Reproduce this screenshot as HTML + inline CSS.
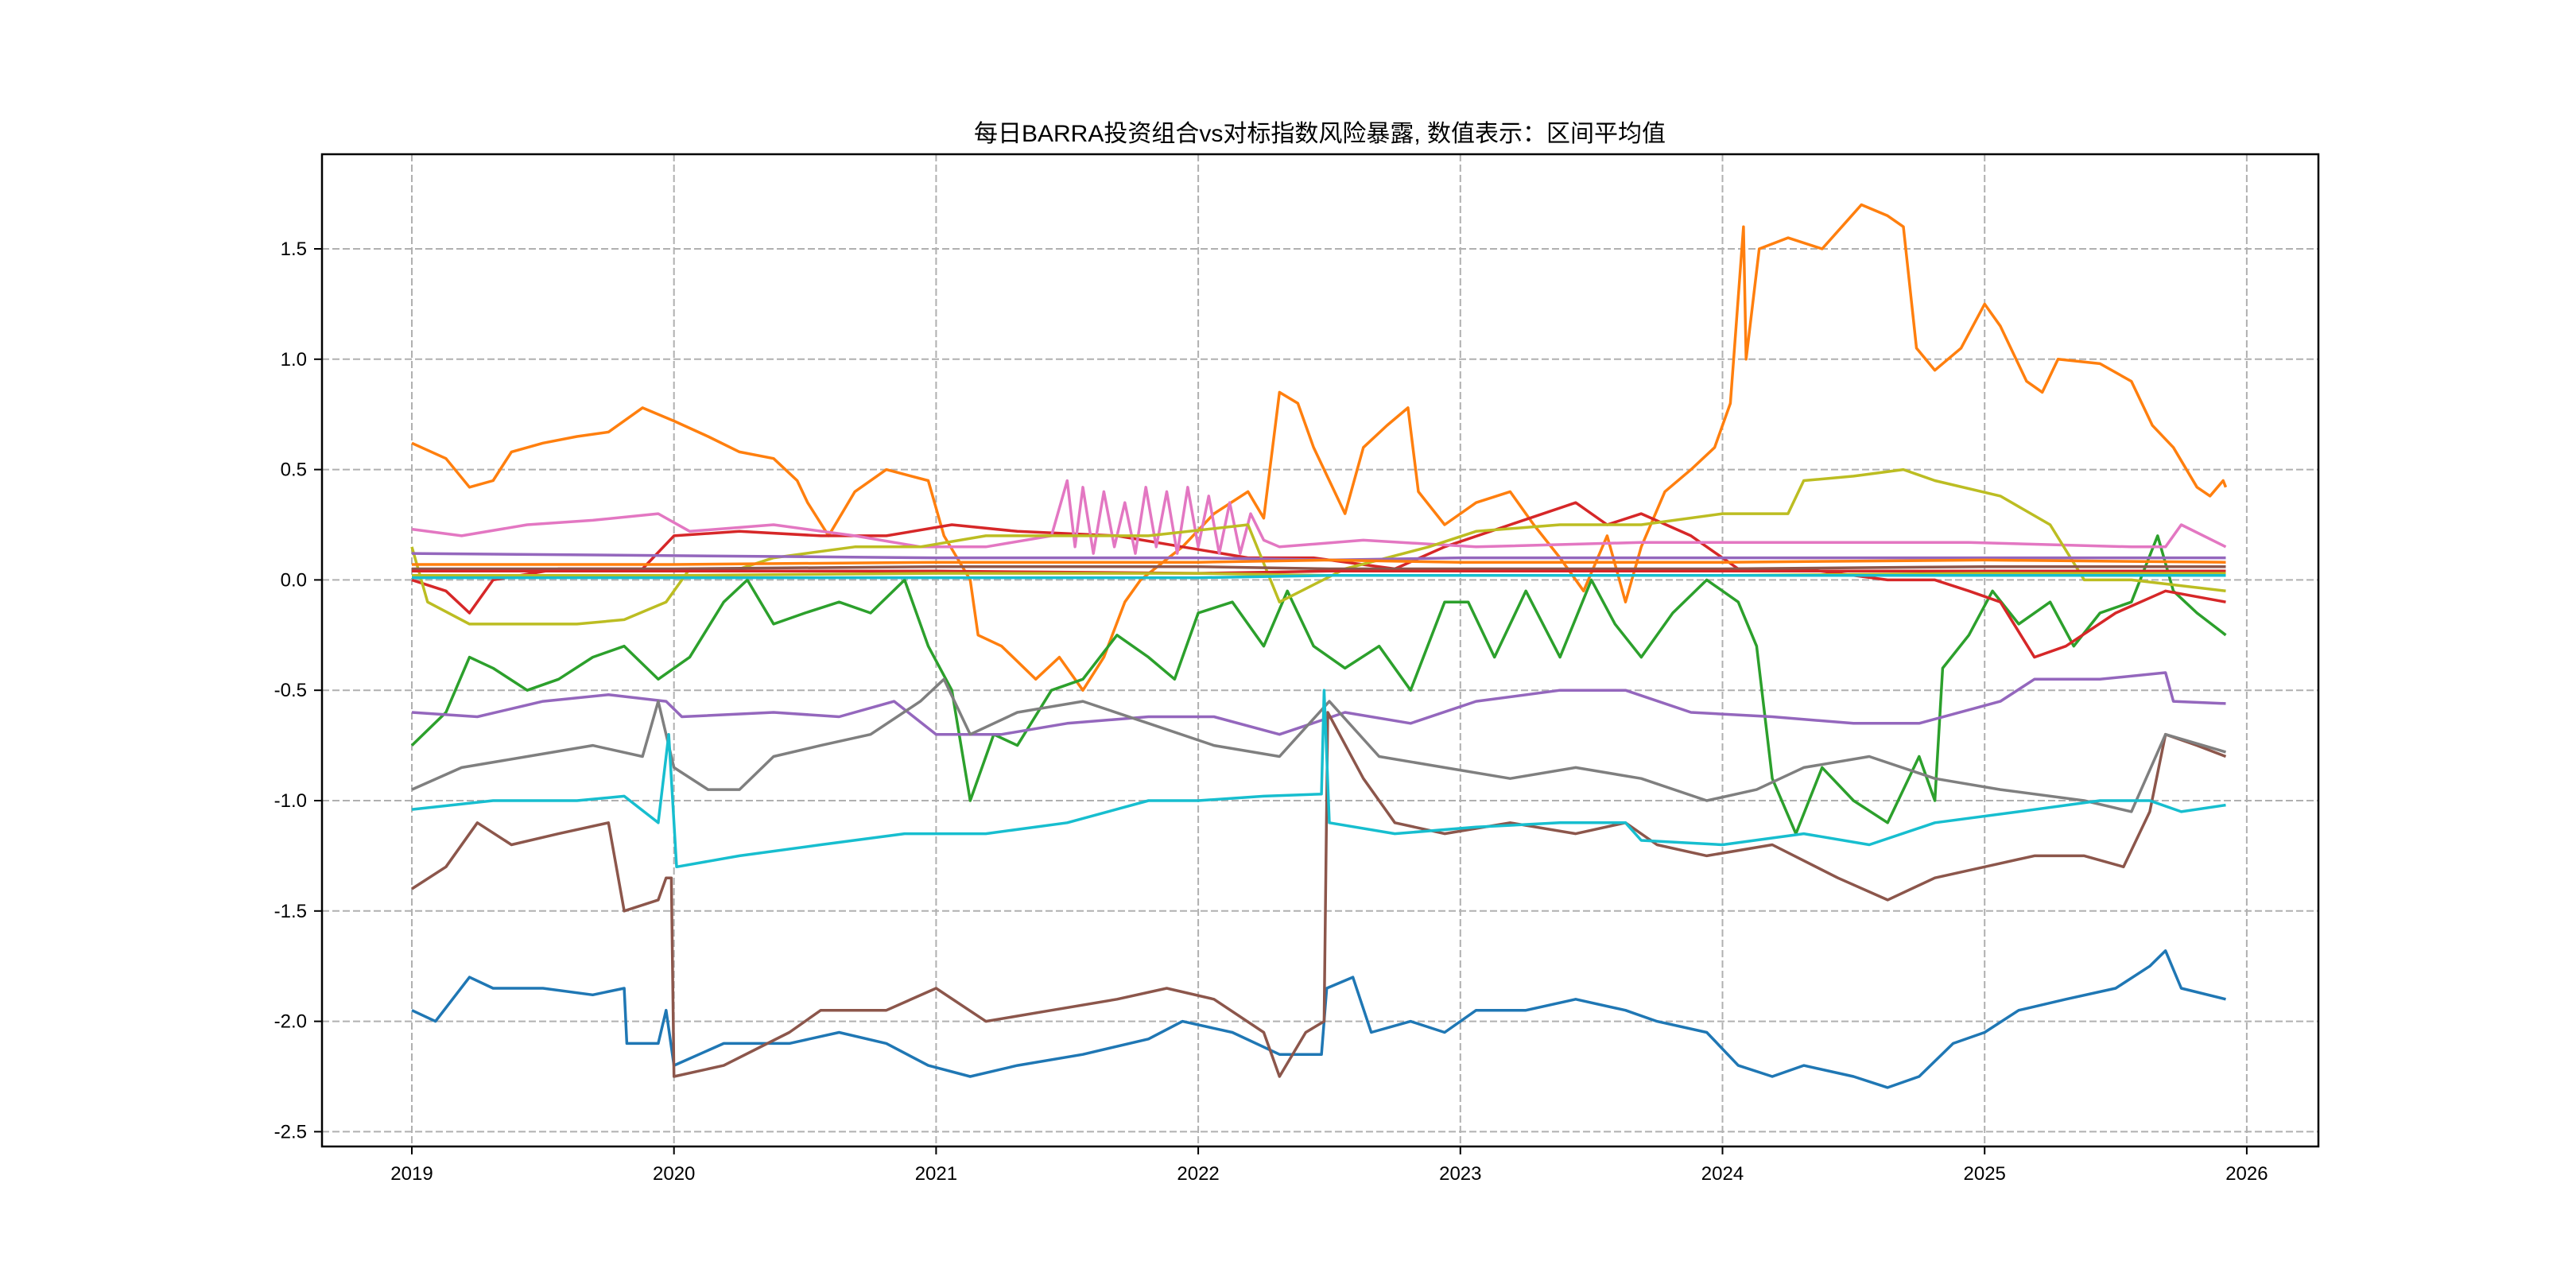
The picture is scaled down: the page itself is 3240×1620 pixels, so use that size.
<!DOCTYPE html>
<html><head><meta charset="utf-8"><style>
html,body{margin:0;padding:0;background:#fff;}
svg{display:block;}
text{font-family:"Liberation Sans","Noto Sans CJK SC",sans-serif;}
</style></head><body>
<svg id="chart" width="3240" height="1620" viewBox="0 0 3240 1620" xmlns="http://www.w3.org/2000/svg">
<rect x="0" y="0" width="3240" height="1620" fill="#fff"/>
<text x="1660" y="178" font-size="30" text-anchor="middle">每日BARRA投资组合vs对标指数风险暴露, 数值表示：区间平均值</text>
<g id="grid"></g>
<g id="series"></g>
<rect x="405" y="194" width="2511" height="1248" fill="none" stroke="#000" stroke-width="2.5"/>
<g id="axes"></g>
</svg>
<script>
const xTickYears = [2019,2020,2021,2022,2023,2024,2025,2026];
const yTickValues = [-2.5,-2.0,-1.5,-1.0,-0.5,0.0,0.5,1.0,1.5];
const yTickLabels = ["-2.5","-2.0","-1.5","-1.0","-0.5","0.0","0.5","1.0","1.5"];

const blueT = [2019.0,2019.09,2019.22,2019.31,2019.5,2019.69,2019.81,2019.82,2019.94,2019.97,2020.0,2020.19,2020.44,2020.63,2020.81,2020.97,2021.13,2021.31,2021.56,2021.81,2021.94,2022.13,2022.31,2022.47,2022.49,2022.59,2022.66,2022.81,2022.94,2023.06,2023.25,2023.44,2023.63,2023.75,2023.94,2024.06,2024.19,2024.31,2024.5,2024.63,2024.75,2024.88,2025.0,2025.13,2025.31,2025.5,2025.63,2025.69,2025.75,2025.92];
const blueV = [-1.95,-2.0,-1.8,-1.85,-1.85,-1.88,-1.85,-2.1,-2.1,-1.95,-2.2,-2.1,-2.1,-2.05,-2.1,-2.2,-2.25,-2.2,-2.15,-2.08,-2.0,-2.05,-2.15,-2.15,-1.85,-1.8,-2.05,-2.0,-2.05,-1.95,-1.95,-1.9,-1.95,-2.0,-2.05,-2.2,-2.25,-2.2,-2.25,-2.3,-2.25,-2.1,-2.05,-1.95,-1.9,-1.85,-1.75,-1.68,-1.85,-1.9];

const orangeT = [2019.0,2019.13,2019.22,2019.31,2019.38,2019.5,2019.63,2019.75,2019.88,2020.0,2020.13,2020.25,2020.38,2020.47,2020.51,2020.59,2020.69,2020.81,2020.97,2021.03,2021.13,2021.16,2021.25,2021.38,2021.47,2021.56,2021.64,2021.72,2021.78,2021.94,2022.06,2022.19,2022.25,2022.31,2022.38,2022.44,2022.5,2022.56,2022.63,2022.72,2022.8,2022.84,2022.94,2023.06,2023.19,2023.28,2023.38,2023.47,2023.56,2023.63,2023.69,2023.78,2023.88,2023.97,2024.03,2024.08,2024.09,2024.14,2024.25,2024.38,2024.47,2024.53,2024.63,2024.69,2024.74,2024.81,2024.91,2025.0,2025.06,2025.16,2025.22,2025.28,2025.44,2025.56,2025.64,2025.72,2025.81,2025.86,2025.91,2025.92];
const orangeV = [0.62,0.55,0.42,0.45,0.58,0.62,0.65,0.67,0.78,0.72,0.65,0.58,0.55,0.45,0.35,0.2,0.4,0.5,0.45,0.2,0.0,-0.25,-0.3,-0.45,-0.35,-0.5,-0.35,-0.1,0.0,0.15,0.3,0.4,0.28,0.85,0.8,0.6,0.45,0.3,0.6,0.7,0.78,0.4,0.25,0.35,0.4,0.25,0.1,-0.05,0.2,-0.1,0.15,0.4,0.5,0.6,0.8,1.6,1.0,1.5,1.55,1.5,1.62,1.7,1.65,1.6,1.05,0.95,1.05,1.25,1.15,0.9,0.85,1.0,0.98,0.9,0.7,0.6,0.42,0.38,0.45,0.42];

const greenT = [2019.0,2019.13,2019.22,2019.31,2019.44,2019.56,2019.69,2019.81,2019.94,2020.06,2020.19,2020.28,2020.38,2020.5,2020.63,2020.75,2020.88,2020.97,2021.06,2021.13,2021.22,2021.31,2021.44,2021.56,2021.69,2021.81,2021.91,2022.0,2022.13,2022.25,2022.34,2022.44,2022.56,2022.69,2022.81,2022.94,2023.03,2023.13,2023.25,2023.38,2023.5,2023.59,2023.69,2023.81,2023.94,2024.06,2024.13,2024.19,2024.28,2024.38,2024.5,2024.63,2024.75,2024.81,2024.84,2024.94,2025.03,2025.13,2025.25,2025.34,2025.44,2025.56,2025.66,2025.72,2025.81,2025.92];
const greenV = [-0.75,-0.6,-0.35,-0.4,-0.5,-0.45,-0.35,-0.3,-0.45,-0.35,-0.1,0.0,-0.2,-0.15,-0.1,-0.15,0.0,-0.3,-0.5,-1.0,-0.7,-0.75,-0.5,-0.45,-0.25,-0.35,-0.45,-0.15,-0.1,-0.3,-0.05,-0.3,-0.4,-0.3,-0.5,-0.1,-0.1,-0.35,-0.05,-0.35,0.0,-0.2,-0.35,-0.15,0.0,-0.1,-0.3,-0.9,-1.15,-0.85,-1.0,-1.1,-0.8,-1.0,-0.4,-0.25,-0.05,-0.2,-0.1,-0.3,-0.15,-0.1,0.2,-0.05,-0.15,-0.25];

const redT = [2019.0,2019.13,2019.22,2019.31,2019.56,2019.88,2020.0,2020.25,2020.56,2020.81,2021.06,2021.31,2021.69,2021.94,2022.19,2022.44,2022.75,2022.94,2023.19,2023.44,2023.56,2023.69,2023.88,2024.06,2024.31,2024.63,2024.81,2024.94,2025.06,2025.19,2025.31,2025.5,2025.69,2025.92];
const redV = [0.0,-0.05,-0.15,0.0,0.05,0.05,0.2,0.22,0.2,0.2,0.25,0.22,0.2,0.15,0.1,0.1,0.05,0.15,0.25,0.35,0.25,0.3,0.2,0.05,0.05,0.0,0.0,-0.05,-0.1,-0.35,-0.3,-0.15,-0.05,-0.1];

const purpleT = [2019.0,2019.25,2019.5,2019.75,2019.97,2020.03,2020.38,2020.63,2020.84,2021.0,2021.25,2021.5,2021.81,2022.06,2022.31,2022.56,2022.81,2023.06,2023.38,2023.63,2023.88,2024.19,2024.5,2024.75,2025.06,2025.19,2025.44,2025.69,2025.72,2025.92];
const purpleV = [-0.6,-0.62,-0.55,-0.52,-0.55,-0.62,-0.6,-0.62,-0.55,-0.7,-0.7,-0.65,-0.62,-0.62,-0.7,-0.6,-0.65,-0.55,-0.5,-0.5,-0.6,-0.62,-0.65,-0.65,-0.55,-0.45,-0.45,-0.42,-0.55,-0.56];

const brownT = [2019.0,2019.13,2019.25,2019.38,2019.56,2019.75,2019.81,2019.94,2019.97,2019.99,2020.0,2020.19,2020.44,2020.56,2020.81,2021.0,2021.19,2021.44,2021.69,2021.88,2022.06,2022.25,2022.31,2022.41,2022.48,2022.494,2022.63,2022.75,2022.94,2023.19,2023.44,2023.63,2023.75,2023.94,2024.19,2024.44,2024.63,2024.81,2025.0,2025.19,2025.38,2025.53,2025.63,2025.69,2025.81,2025.92];
const brownV = [-1.4,-1.3,-1.1,-1.2,-1.15,-1.1,-1.5,-1.45,-1.35,-1.35,-2.25,-2.2,-2.05,-1.95,-1.95,-1.85,-2.0,-1.95,-1.9,-1.85,-1.9,-2.05,-2.25,-2.05,-2.0,-0.6,-0.9,-1.1,-1.15,-1.1,-1.15,-1.1,-1.2,-1.25,-1.2,-1.35,-1.45,-1.35,-1.3,-1.25,-1.25,-1.3,-1.05,-0.7,-0.75,-0.8];

const pinkT = [2019.0,2019.19,2019.44,2019.69,2019.94,2020.06,2020.38,2020.69,2020.94,2021.19,2021.44,2021.5,2021.53,2021.56,2021.6,2021.64,2021.68,2021.72,2021.76,2021.8,2021.84,2021.88,2021.92,2021.96,2022.0,2022.04,2022.08,2022.12,2022.16,2022.2,2022.25,2022.31,2022.63,2023.06,2023.69,2024.31,2024.94,2025.56,2025.69,2025.75,2025.92];
const pinkV = [0.23,0.2,0.25,0.27,0.3,0.22,0.25,0.2,0.15,0.15,0.2,0.45,0.15,0.42,0.12,0.4,0.15,0.35,0.12,0.42,0.15,0.4,0.12,0.42,0.15,0.38,0.12,0.35,0.12,0.3,0.18,0.15,0.18,0.15,0.17,0.17,0.17,0.15,0.15,0.25,0.15];

const grayT = [2019.0,2019.19,2019.44,2019.69,2019.88,2019.94,2020.0,2020.13,2020.25,2020.38,2020.56,2020.75,2020.94,2021.03,2021.13,2021.31,2021.56,2021.81,2022.06,2022.31,2022.5,2022.69,2022.94,2023.19,2023.44,2023.69,2023.94,2024.13,2024.31,2024.56,2024.81,2025.06,2025.38,2025.56,2025.69,2025.92];
const grayV = [-0.95,-0.85,-0.8,-0.75,-0.8,-0.55,-0.85,-0.95,-0.95,-0.8,-0.75,-0.7,-0.55,-0.45,-0.7,-0.6,-0.55,-0.65,-0.75,-0.8,-0.55,-0.8,-0.85,-0.9,-0.85,-0.9,-1.0,-0.95,-0.85,-0.8,-0.9,-0.95,-1.0,-1.05,-0.7,-0.78];

const oliveT = [2019.0,2019.06,2019.22,2019.44,2019.63,2019.81,2019.97,2020.06,2020.25,2020.38,2020.69,2020.94,2021.19,2021.5,2021.81,2022.19,2022.31,2022.56,2022.88,2023.06,2023.38,2023.69,2024.0,2024.25,2024.31,2024.5,2024.69,2024.81,2025.06,2025.25,2025.38,2025.56,2025.92];
const oliveV = [0.15,-0.1,-0.2,-0.2,-0.2,-0.18,-0.1,0.05,0.05,0.1,0.15,0.15,0.2,0.2,0.2,0.25,-0.1,0.05,0.15,0.22,0.25,0.25,0.3,0.3,0.45,0.47,0.5,0.45,0.38,0.25,0.0,0.0,-0.05];

const cyanT = [2019.0,2019.31,2019.63,2019.81,2019.94,2019.98,2020.01,2020.25,2020.56,2020.88,2021.19,2021.5,2021.81,2022.0,2022.25,2022.47,2022.48,2022.5,2022.75,2023.06,2023.38,2023.63,2023.69,2024.0,2024.31,2024.56,2024.81,2025.13,2025.44,2025.63,2025.75,2025.92];
const cyanV = [-1.04,-1.0,-1.0,-0.98,-1.1,-0.7,-1.3,-1.25,-1.2,-1.15,-1.15,-1.1,-1.0,-1.0,-0.98,-0.97,-0.5,-1.1,-1.15,-1.12,-1.1,-1.1,-1.18,-1.2,-1.15,-1.2,-1.1,-1.05,-1.0,-1.0,-1.05,-1.02];

const flatT = [2019.0,2020.0,2021.0,2022.0,2022.5,2023.0,2024.0,2025.0,2025.92];
const flat1V = [0.12,0.11,0.1,0.1,0.09,0.1,0.1,0.1,0.1];
const flat2V = [0.07,0.07,0.08,0.08,0.09,0.08,0.08,0.09,0.08];
const flat3V = [0.05,0.05,0.06,0.06,0.05,0.05,0.05,0.06,0.06];
const flat4V = [0.04,0.04,0.04,0.03,0.04,0.04,0.04,0.04,0.04];
const flat5V = [0.02,0.02,0.03,0.03,0.02,0.02,0.02,0.03,0.03];
const flat6V = [0.01,0.01,0.01,0.01,0.02,0.02,0.02,0.02,0.02];

const X = yr => 518 + (yr - 2019) * 329.7;
const Y = v => 729.4 - v * 277.6;
const NS = "http://www.w3.org/2000/svg";
const grid = document.getElementById('grid');
const axes = document.getElementById('axes');
const seriesG = document.getElementById('series');

xTickYears.forEach((yr, i) => {
  const x = X(yr);
  const g = document.createElementNS(NS, 'line');
  
  
  g.setAttribute('x1', x); g.setAttribute('x2', x); g.setAttribute('y1', 194); g.setAttribute('y2', 1442);
  g.setAttribute('stroke', '#b0b0b0'); g.setAttribute('stroke-width', 2); g.setAttribute('stroke-dasharray', '9,4');
  grid.appendChild(g);
  const t = document.createElementNS(NS, 'line');
  
  
  t.setAttribute('x1', x); t.setAttribute('x2', x); t.setAttribute('y1', 1442); t.setAttribute('y2', 1452);
  t.setAttribute('stroke', '#000'); t.setAttribute('stroke-width', 2);
  axes.appendChild(t);
  const l = document.createElementNS(NS, 'text');
  
  
  l.setAttribute('x', x); l.setAttribute('y', 1484); l.setAttribute('font-size', 24); l.setAttribute('text-anchor', 'middle');
  l.textContent = String(yr);
  axes.appendChild(l);
});
yTickValues.forEach((v, i) => {
  const y = Y(v);
  const g = document.createElementNS(NS, 'line');
  
  
  g.setAttribute('x1', 405); g.setAttribute('x2', 2916); g.setAttribute('y1', y); g.setAttribute('y2', y);
  g.setAttribute('stroke', '#b0b0b0'); g.setAttribute('stroke-width', 2); g.setAttribute('stroke-dasharray', '9,4');
  grid.appendChild(g);
  const t = document.createElementNS(NS, 'line');
  
  
  t.setAttribute('x1', 395); t.setAttribute('x2', 405); t.setAttribute('y1', y); t.setAttribute('y2', y);
  t.setAttribute('stroke', '#000'); t.setAttribute('stroke-width', 2);
  axes.appendChild(t);
  const l = document.createElementNS(NS, 'text');
  
  
  l.setAttribute('x', 386); l.setAttribute('y', y + 8); l.setAttribute('font-size', 24); l.setAttribute('text-anchor', 'end');
  l.textContent = yTickLabels[i];
  axes.appendChild(l);
});

const seriesList = [
  ['blue-series', blueT, blueV, '#1f77b4'],
  ['orange-series', orangeT, orangeV, '#ff7f0e'],
  ['green-series', greenT, greenV, '#2ca02c'],
  ['red-series', redT, redV, '#d62728'],
  ['purple-series', purpleT, purpleV, '#9467bd'],
  ['brown-series', brownT, brownV, '#8c564b'],
  ['pink-series', pinkT, pinkV, '#e377c2'],
  ['gray-series', grayT, grayV, '#7f7f7f'],
  ['olive-series', oliveT, oliveV, '#bcbd22'],
  ['cyan-series', cyanT, cyanV, '#17becf'],
  ['flat-purple-series', flatT, flat1V, '#9467bd'],
  ['flat-orange-series', flatT, flat2V, '#ff7f0e'],
  ['flat-brown-series', flatT, flat3V, '#8c564b'],
  ['flat-red-series', flatT, flat4V, '#d62728'],
  ['flat-olive-series', flatT, flat5V, '#bcbd22'],
  ['flat-cyan-series', flatT, flat6V, '#17becf']
];
seriesList.forEach(s => {
  const [name, ts, vs, color] = s;
  const p = document.createElementNS(NS, 'polyline');
  
  
  p.setAttribute('points', ts.map((t, i) => X(t).toFixed(1) + ',' + Y(vs[i]).toFixed(1)).join(' '));
  p.setAttribute('fill', 'none'); p.setAttribute('stroke', color); p.setAttribute('stroke-width', 3.5);
  p.setAttribute('stroke-linejoin', 'round');
  seriesG.appendChild(p);
});
</script>
</body></html>
